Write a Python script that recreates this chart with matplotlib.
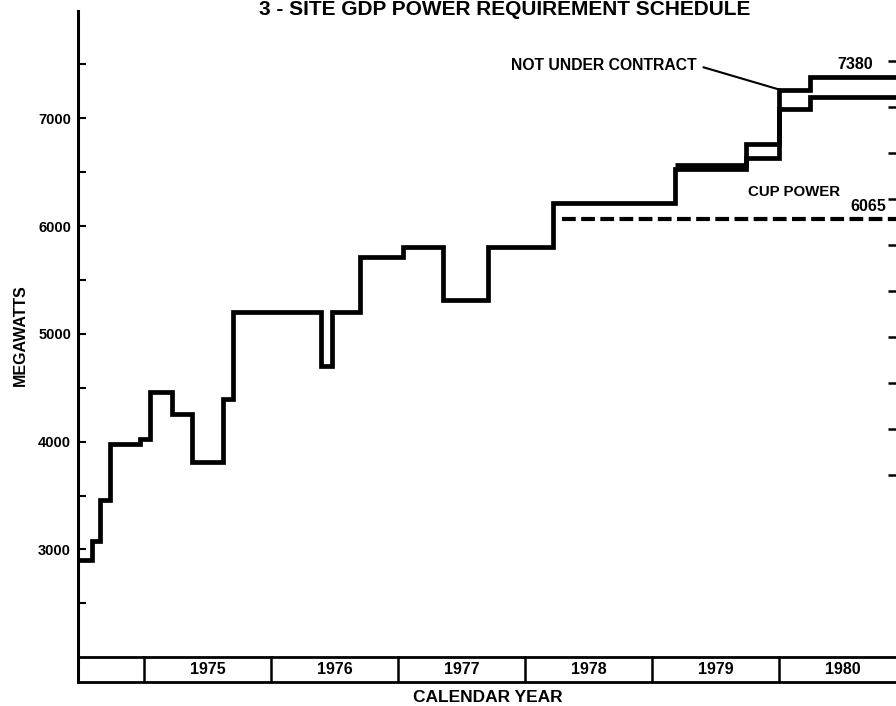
"""
3-site GDP power requirement schedule, 1974-1980 (step chart).
"""

import matplotlib
matplotlib.use("Agg")
import matplotlib.pyplot as plt
from matplotlib import font_manager

# -- Data --------------------------------------------------------------------
# requirement steps (under contract), year of change -> megawatts
step_years = [1974.48, 1974.59, 1974.65, 1974.73, 1974.97, 1975.05, 1975.22,
              1975.38, 1975.62, 1975.70, 1976.39, 1976.48, 1976.70, 1977.04,
              1977.35, 1977.71, 1978.22, 1979.18, 1979.74, 1980.00, 1980.24,
              1980.92]
contract_mw = [2900, 3080, 3460, 3975, 4020, 4460, 4260, 3815, 4400, 5205,
               4705, 5205, 5710, 5805, 5315, 5805, 6215, 6530, 6630, 7090,
               7200, 7200]
# total incl. not-under-contract portion (differs from 1979 on)
total_years = [1979.18, 1979.74, 1980.00, 1980.24, 1980.92]
total_mw = [6570, 6760, 7260, 7380, 7380]

cup_years = [1978.29, 1980.92]
cup_mw = [6065, 6065]

years = [1975, 1976, 1977, 1978, 1979, 1980]
major_ticks = [3000, 4000, 5000, 6000, 7000]
minor_ticks = [2500, 3500, 4500, 5500, 6500, 7500]
right_ticks = list(range(5, 15))

# -- Fonts -------------------------------------------------------------------
names = {f.name for f in font_manager.fontManager.ttflist}
FONT = "Liberation Sans" if "Liberation Sans" in names else "DejaVu Sans"
plt.rcParams["font.family"] = [FONT, "DejaVu Sans"]
plt.rcParams["font.weight"] = "bold"

# -- Plot --------------------------------------------------------------------
fig = plt.figure(figsize=(8.96, 7.06), dpi=100)
ax = fig.add_axes([78 / 896, 1 - 682 / 706, 818 / 896, 671.5 / 706])

XMIN, XMAX = 1974.48, 1980.92
YMIN, YMAX = 1770, 8000
BAND_TOP = 2000

lw = 3.4
ax.plot(step_years, contract_mw, drawstyle="steps-post", color="black",
        lw=lw, solid_joinstyle="miter", solid_capstyle="butt")
ax.plot(total_years, total_mw, drawstyle="steps-post", color="black",
        lw=lw, solid_joinstyle="miter", solid_capstyle="butt")
ax.plot(cup_years, cup_mw, color="black", lw=3.0, dashes=(3.3, 1.3),
        dash_capstyle="butt")

# calendar year band
ax.axhline(BAND_TOP, color="black", lw=2.0)
for y in years:
    ax.plot([y, y], [YMIN, BAND_TOP], color="black", lw=1.8)
    ax.text(y + 0.5, (YMIN + BAND_TOP) / 2, str(y), ha="center", va="center",
            fontsize=11.5, fontweight="bold")

ax.set_xlim(XMIN, XMAX)
ax.set_ylim(YMIN, YMAX)

for s in ["top", "right"]:
    ax.spines[s].set_visible(False)
ax.spines["left"].set_linewidth(2.2)
ax.spines["bottom"].set_linewidth(2.0)

ax.set_xticks([])
ax.set_yticks(major_ticks)
ax.set_yticks(minor_ticks, minor=True)
ax.tick_params(axis="y", which="both", direction="in", length=6, width=1.5,
               labelsize=10.5, pad=5)
for t in ax.get_yticklabels():
    t.set_fontweight("bold")

# cut-off right scale: only inward ticks visible at the edge
ax2 = ax.twinx()
ax2.set_ylim(0.5, 0.5 + 671.5 / 46)
ax2.set_yticks(right_ticks)
ax2.set_yticklabels([])
ax2.tick_params(axis="y", direction="in", length=5.5, width=1.8)
for s in ax2.spines.values():
    s.set_visible(False)

# annotations
ax.annotate("NOT UNDER CONTRACT", xy=(1980.02, 7260), xytext=(1979.35, 7492),
            ha="right", va="center", fontsize=11.3, fontweight="bold",
            arrowprops=dict(arrowstyle="-", lw=1.5, color="black",
                            relpos=(1, 0.5), shrinkA=3, shrinkB=0))
ax.text(1980.60, 7500, "7380", ha="center", va="center", fontsize=11.5,
        fontweight="bold")
ax.text(1980.12, 6318, "CUP POWER", ha="center", va="center", fontsize=10.8,
        fontweight="bold")
ax.text(1980.70, 6180, "6065", ha="center", va="center", fontsize=11.5,
        fontweight="bold")

fig.text(505 / 896, 1 - 15 / 706, "3 - SITE GDP POWER REQUIREMENT SCHEDULE",
         ha="center", va="baseline", fontsize=15, fontweight="bold")
fig.text(20 / 896, 1 - 335 / 706, "MEGAWATTS", rotation=90, ha="center",
         va="center", fontsize=11.5, fontweight="bold")
fig.text(488 / 896, 1 - 697 / 706, "CALENDAR YEAR", ha="center", va="center",
         fontsize=12.5, fontweight="bold")

fig.savefig("out.png", dpi=100)
